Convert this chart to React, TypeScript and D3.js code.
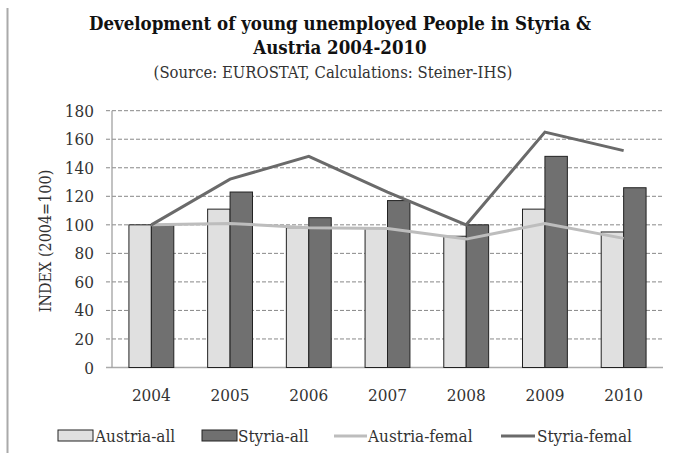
import React from "react";
import { scaleBand, scaleLinear, line } from "d3";

const years = ["2004", "2005", "2006", "2007", "2008", "2009", "2010"];
const austriaAll = [100, 111, 98, 98, 92, 111, 95];
const styriaAll = [100, 123, 105, 117, 100, 148, 126];
const austriaFemal = [100, 101, 98, 97.5, 90, 101, 90.5];
const styriaFemal = [100, 132, 148, 123, 100, 165, 152];
const yTicks = [0, 20, 40, 60, 80, 100, 120, 140, 160, 180];

const W = 677;
const H = 453;
const FONT = "'DejaVu Serif Condensed', 'DejaVu Serif', serif";

const App = () => {
  const x = scaleBand().domain(years).range([112, 663]).paddingInner(0.43).paddingOuter(0.215);
  const y = scaleLinear().domain([0, 180]).range([367.5, 110.7]);
  const bw = x.bandwidth() / 2;
  const cx = (d: string) => (x(d) as number) + x.bandwidth() / 2;

  const lineGen = line<number>()
    .x((_, i) => cx(years[i]))
    .y((v) => y(v));

  return (
    <svg width={W} height={H} style={{ position: "absolute", left: 0, top: 0, background: "#fff" }}>
      <line x1={7.5} x2={7.5} y1={8} y2={H} stroke="#aaa" strokeWidth={2} />
      {/* title */}
      <g fontFamily={FONT} textAnchor="middle" fill="#111">
        <text x={340} y={30} fontSize={18.5} fontWeight="bold">
          Development of young unemployed People in Styria &amp;
        </text>
        <text x={340} y={54} fontSize={18.5} fontWeight="bold">
          Austria 2004-2010
        </text>
        <text x={333} y={78} fontSize={16.5} fill="#333">
          (Source: EUROSTAT, Calculations: Steiner-IHS)
        </text>
      </g>

      {/* grid */}
      {yTicks.map((t) => (
        <line
          key={t}
          x1={106}
          x2={663}
          y1={y(t)}
          y2={y(t)}
          stroke={t === 0 ? "#aaa" : "#888"}
          strokeWidth={t === 0 ? 1.5 : 1}
          strokeDasharray={t === 0 ? undefined : "4,2"}
        />
      ))}
      <line x1={112} x2={112} y1={y(180)} y2={y(0)} stroke="#999" strokeWidth={1.2} />

      {/* y labels */}
      <g fontFamily={FONT} fontSize={17} fill="#333" textAnchor="end">
        {yTicks.map((t) => (
          <text key={t} x={94} y={y(t) + 6}>
            {t}
          </text>
        ))}
      </g>
      <text
        transform="translate(51,241) rotate(-90)"
        textAnchor="middle"
        fontFamily={FONT}
        fontSize={16}
        fill="#333"
      >
        INDEX (2004=100)
      </text>

      {/* bars */}
      {years.map((yr, i) => (
        <g key={yr}>
          <rect
            x={cx(yr) - bw}
            y={y(austriaAll[i])}
            width={bw}
            height={y(0) - y(austriaAll[i])}
            fill="#e0e0e0"
            stroke="#222"
            strokeWidth={1}
          />
          <rect
            x={cx(yr)}
            y={y(styriaAll[i])}
            width={bw}
            height={y(0) - y(styriaAll[i])}
            fill="#707070"
            stroke="#222"
            strokeWidth={1}
          />
        </g>
      ))}

      {/* lines */}
      <path d={lineGen(austriaFemal) || ""} fill="none" stroke="#bdbdbd" strokeWidth={3} />
      <path d={lineGen(styriaFemal) || ""} fill="none" stroke="#6a6a6a" strokeWidth={3} />

      {/* x labels */}
      <g fontFamily={FONT} fontSize={17} fill="#333" textAnchor="middle">
        {years.map((yr) => (
          <text key={yr} x={cx(yr)} y={401}>
            {yr}
          </text>
        ))}
      </g>

      {/* legend */}
      <g fontFamily={FONT} fontSize={17} fill="#333">
        <rect x={58} y={430} width={35} height={11} fill="#e0e0e0" stroke="#222" />
        <text x={95} y={442}>Austria-all</text>
        <rect x={202} y={430} width={35} height={11} fill="#707070" stroke="#222" />
        <text x={238} y={442}>Styria-all</text>
        <line x1={334} x2={367} y1={436} y2={436} stroke="#bdbdbd" strokeWidth={3} />
        <text x={368} y={442}>Austria-femal</text>
        <line x1={501} x2={535} y1={436} y2={436} stroke="#6a6a6a" strokeWidth={3} />
        <text x={537} y={442}>Styria-femal</text>
      </g>
    </svg>
  );
};

export default App;
